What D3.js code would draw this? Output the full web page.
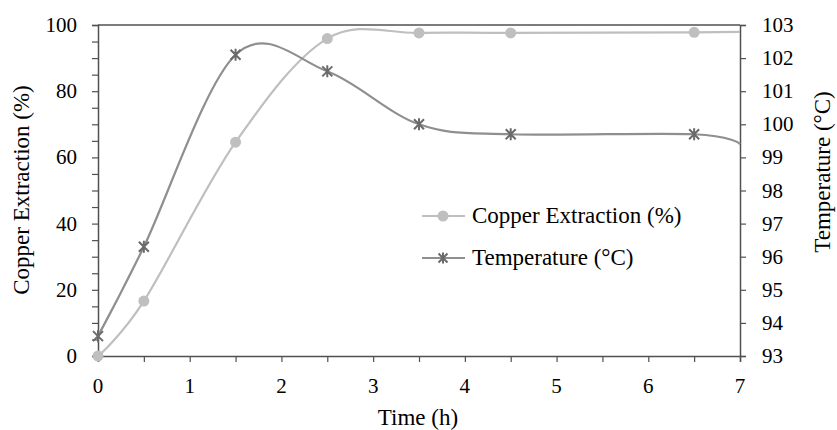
<!DOCTYPE html>
<html>
<head>
<meta charset="utf-8">
<script src="https://cdn.jsdelivr.net/npm/d3@7"></script>
<style>
  body { margin: 0; background: #fff; font-family: "Liberation Serif", "DejaVu Serif", serif; }
  svg text { font-family: "Liberation Serif", "DejaVu Serif", serif; }
</style>
</head>
<body>
<div id="chart"></div>
<script>
// data
var times = [0, 0.5, 1.5, 2.5, 3.5, 4.5, 6.5, 7];
var copper = [0, 16.6, 64.6, 95.9, 97.6, 97.6, 97.8, 97.9];
var temperature = [93.6, 96.3, 102.1, 101.6, 100.0, 99.7, 99.7, 99.4];
var xTicks = [0, 1, 2, 3, 4, 5, 6, 7];
var leftTicks = [0, 20, 40, 60, 80, 100];
var rightTicks = [93, 94, 95, 96, 97, 98, 99, 100, 101, 102, 103];

var width = 837, height = 430;
var plot = { left: 98, right: 740, top: 25, bottom: 356 };
var serif = "Liberation Serif";

var svg = d3.select("#chart").append("svg")
    .attr("width", width)
    .attr("height", height)
    .attr("font-family", serif);

var x = d3.scaleLinear().domain([0, 7]).range([plot.left, plot.right]);
var yL = d3.scaleLinear().domain([0, 100]).range([plot.bottom, plot.top]);
var yR = d3.scaleLinear().domain([93, 103]).range([plot.bottom, plot.top]);

var axisColor = "#505050";
var copperColor = "#bfbfbf";
var tempColor = "#8f8f8f";
var starColor = "#6a6a6a";

// axes (ticks only, labels drawn separately)
var gx = svg.append("g")
    .attr("transform", "translate(0," + plot.bottom + ")")
    .call(d3.axisBottom(x).tickValues(d3.range(0, 7.01, 0.5)).tickSize(6).tickFormat(""));
var gl = svg.append("g")
    .attr("transform", "translate(" + plot.left + ",0)")
    .call(d3.axisLeft(yL).tickValues(d3.range(0, 100.1, 5)).tickSize(6).tickFormat(""));
var gr = svg.append("g")
    .attr("transform", "translate(" + plot.right + ",0)")
    .call(d3.axisRight(yR).tickValues(rightTicks).tickSize(6).tickFormat(""));

[gx, gl, gr].forEach(function (g) {
    g.select(".domain").attr("stroke", axisColor).attr("stroke-width", 1.5);
    g.selectAll(".tick line").attr("stroke", axisColor).attr("stroke-width", 1.2);
});

// top border
svg.append("line")
    .attr("x1", plot.left).attr("x2", plot.right)
    .attr("y1", plot.top).attr("y2", plot.top)
    .attr("stroke", axisColor).attr("stroke-width", 1.5);

function label(sel) {
    return sel.style("font-family", serif).attr("fill", "#000");
}

// tick labels
label(svg.selectAll(".xlab").data(xTicks).enter().append("text"))
    .attr("x", function (d) { return x(d); })
    .attr("y", 393)
    .attr("text-anchor", "middle")
    .attr("font-size", 21)
    .text(function (d) { return d; });

label(svg.selectAll(".llab").data(leftTicks).enter().append("text"))
    .attr("x", 77)
    .attr("y", function (d) { return yL(d) + 7; })
    .attr("text-anchor", "end")
    .attr("font-size", 21)
    .text(function (d) { return d; });

label(svg.selectAll(".rlab").data(rightTicks).enter().append("text"))
    .attr("x", 762)
    .attr("y", function (d) { return yR(d) + 7; })
    .attr("text-anchor", "start")
    .attr("font-size", 21)
    .text(function (d) { return d; });

// axis titles
label(svg.append("text"))
    .attr("transform", "translate(29,190) rotate(-90)")
    .attr("text-anchor", "middle")
    .attr("font-size", 23)
    .text("Copper Extraction (%)");

label(svg.append("text"))
    .attr("transform", "translate(830,172) rotate(-90)")
    .attr("text-anchor", "middle")
    .attr("font-size", 23)
    .text("Temperature (°C)");

label(svg.append("text"))
    .attr("x", 418)
    .attr("y", 425)
    .attr("text-anchor", "middle")
    .attr("font-size", 23)
    .text("Time (h)");

// smooth lines like Excel
var curve = d3.curveCardinal.tension(0);

var copperLine = d3.line()
    .x(function (d, i) { return x(times[i]); })
    .y(function (d) { return yL(d); })
    .curve(curve);

var tempLine = d3.line()
    .x(function (d, i) { return x(times[i]); })
    .y(function (d) { return yR(d); })
    .curve(curve);

svg.append("path")
    .attr("d", copperLine(copper))
    .attr("fill", "none")
    .attr("stroke", copperColor)
    .attr("stroke-width", 2.2);

svg.append("path")
    .attr("d", tempLine(temperature))
    .attr("fill", "none")
    .attr("stroke", tempColor)
    .attr("stroke-width", 2.2);

// markers (the end point at 7 h has no marker)
function star(g, cx, cy, s) {
    g.append("path")
        .attr("d", "M" + (cx - s) + "," + (cy - s) + "L" + (cx + s) + "," + (cy + s) +
            "M" + (cx - s) + "," + (cy + s) + "L" + (cx + s) + "," + (cy - s) +
            "M" + cx + "," + (cy - s * 1.2) + "L" + cx + "," + (cy + s * 1.2))
        .attr("stroke", starColor)
        .attr("stroke-width", 2)
        .attr("fill", "none");
}

var marked = times.map(function (t, i) { return i; }).filter(function (i) { return times[i] < 7; });

svg.selectAll(".cu").data(marked).enter().append("circle")
    .attr("cx", function (i) { return x(times[i]); })
    .attr("cy", function (i) { return yL(copper[i]); })
    .attr("r", 5.5)
    .attr("fill", copperColor);

var starG = svg.append("g");
marked.forEach(function (i) {
    star(starG, x(times[i]), yR(temperature[i]), 5);
});

// legend
var leg = svg.append("g");
leg.append("line")
    .attr("x1", 422).attr("x2", 465).attr("y1", 216).attr("y2", 216)
    .attr("stroke", copperColor).attr("stroke-width", 2.2);
leg.append("circle")
    .attr("cx", 443).attr("cy", 216).attr("r", 5.5)
    .attr("fill", copperColor);
label(leg.append("text"))
    .attr("x", 472).attr("y", 223)
    .attr("font-size", 23)
    .text("Copper Extraction (%)");

leg.append("line")
    .attr("x1", 422).attr("x2", 465).attr("y1", 258).attr("y2", 258)
    .attr("stroke", tempColor).attr("stroke-width", 2.2);
star(leg, 443, 258, 4.5);
label(leg.append("text"))
    .attr("x", 472).attr("y", 265)
    .attr("font-size", 23)
    .text("Temperature (°C)");
</script>
</body>
</html>
